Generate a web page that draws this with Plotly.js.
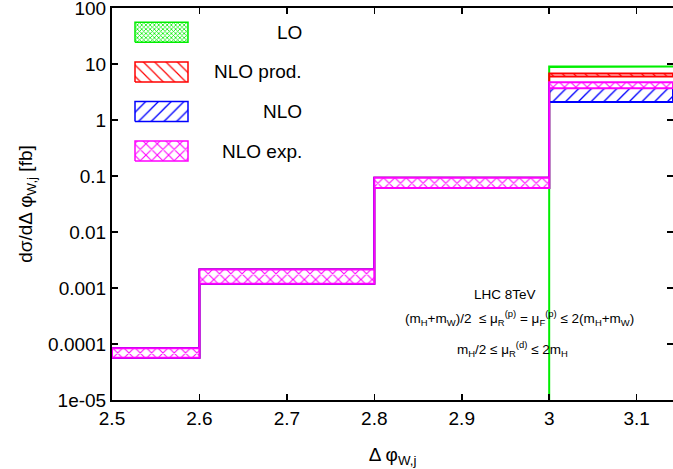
<!DOCTYPE html>
<html>
<head>
<meta charset="utf-8">
<script src="https://cdn.plot.ly/plotly-3.0.1.min.js"></script>
<style>html,body{margin:0;padding:0;background:#fff;}#chart{width:673px;height:469px;}</style>
</head>
<body>
<div id="chart"></div>
<script>
// ---- data ----
const binEdges = [2.5, 2.6, 2.8, 3.0, 3.1416];
const loUpper = [0, 0, 0, 9.0];
const loLower = [0, 0, 0, 8.8];
const nloProdUpper = [8.4e-5, 2.14e-3, 0.093, 6.8];
const nloProdLower = [5.7e-5, 1.19e-3, 0.061, 6.0];
const nloUpper = [8.4e-5, 2.14e-3, 0.093, 4.6];
const nloLower = [5.7e-5, 1.19e-3, 0.061, 2.1];
const nloExpUpper = [8.4e-5, 2.14e-3, 0.093, 4.7];
const nloExpLower = [5.7e-5, 1.19e-3, 0.061, 3.7];
const seriesNames = ["LO", "NLO prod.", "NLO", "NLO exp."];
const xTickVals = [2.5, 2.6, 2.7, 2.8, 2.9, 3.0, 3.1];
const xTickText = ["2.5", "2.6", "2.7", "2.8", "2.9", "3", "3.1"];
const yTickVals = [1e-5, 1e-4, 1e-3, 1e-2, 1e-1, 1, 10, 100];
const yTickText = ["1e-05", "0.0001", "0.001", "0.01", "0.1", "1", "10", "100"];

// ---- styles ----
const FONT = "'Liberation Sans', Arial, Helvetica, sans-serif";
const FLOOR = 1e-9; // zero drawn below the visible log range
const styles = [
  {color: "#00ee00", bg: "rgba(255,255,255,0)", pattern: {shape: "x", size: 3, solidity: 0.45}},
  {color: "#ff0000", bg: "rgba(255,255,255,0)", pattern: {shape: "\\", size: 8, solidity: 0.15}},
  {color: "#0000ff", bg: "rgba(255,255,255,0)", pattern: {shape: "/", size: 9, solidity: 0.15}},
  {color: "#ff00ff", bg: "#ffffff", pattern: {shape: "x", size: 8, solidity: 0.25}}
];
const bands = [[loUpper, loLower], [nloProdUpper, nloProdLower], [nloUpper, nloLower], [nloExpUpper, nloExpLower]];

function stepBand(edges, up, lo) {
  const xs = [], ys = [];
  const f = v => (v > 0 ? v : FLOOR);
  for (let i = 0; i < up.length; i++) { xs.push(edges[i], edges[i + 1]); ys.push(f(up[i]), f(up[i])); }
  for (let i = lo.length - 1; i >= 0; i--) { xs.push(edges[i + 1], edges[i]); ys.push(f(lo[i]), f(lo[i])); }
  xs.push(xs[0]); ys.push(ys[0]);
  return {xs, ys};
}

const traces = [];
bands.forEach((b, k) => {
  const p = stepBand(binEdges, b[0], b[1]);
  const s = styles[k];
  traces.push({
    type: "scatter", mode: "lines", x: p.xs, y: p.ys, name: seriesNames[k],
    fill: "toself", fillcolor: "rgba(0,0,0,0)",
    fillpattern: Object.assign({fgcolor: s.color, bgcolor: s.bg}, s.pattern),
    line: {color: s.color, width: 2, shape: "linear"},
    showlegend: false, hoverinfo: "skip"
  });
});

// ---- legend keys drawn on an overlay axis (0..1 of the plot area) ----
const plotL = 112, plotT = 8, plotW = 561, plotH = 392;
const keyX0 = (135 - plotL) / plotW, keyX1 = (188 - plotL) / plotW;
const keyTop0 = 22.3, keyStep = 39.6, keyH = 20;
const labelX = (304 - plotL) / plotW;
const annotations = [];
seriesNames.forEach((nm, k) => {
  const top = keyTop0 + k * keyStep;
  const y1 = 1 - (top - plotT) / plotH, y0 = 1 - (top + keyH - plotT) / plotH;
  const s = styles[k];
  traces.push({
    type: "scatter", mode: "lines", xaxis: "x2", yaxis: "y2",
    x: [keyX0, keyX1, keyX1, keyX0, keyX0], y: [y0, y0, y1, y1, y0],
    fill: "toself", fillcolor: "rgba(0,0,0,0)",
    fillpattern: Object.assign({fgcolor: s.color, bgcolor: s.bg}, s.pattern),
    line: {color: s.color, width: 1.5}, showlegend: false, hoverinfo: "skip"
  });
  annotations.push({
    xref: "paper", yref: "paper", x: labelX, y: (y0 + y1) / 2, xanchor: "right", yanchor: "middle",
    text: nm, showarrow: false, font: {family: FONT, size: 19, color: "#000"}
  });
});

// ---- text labels ----
const infoFont = {family: FONT, size: 13.5, color: "#000"};
function py(pix) { return 1 - (pix - plotT) / plotH; }
function px(pix) { return (pix - plotL) / plotW; }
annotations.push(
  {xref: "paper", yref: "paper", x: px(505), y: py(294.5), text: "LHC 8TeV", showarrow: false, font: infoFont, xanchor: "center", yanchor: "middle"},
  {xref: "paper", yref: "paper", x: px(519.5), y: py(318), text: "(m<sub>H</sub>+m<sub>W</sub>)/2  ≤ μ<sub>R</sub><sup>(p)</sup> = μ<sub>F</sub><sup>(p)</sup> ≤ 2(m<sub>H</sub>+m<sub>W</sub>)", showarrow: false, font: infoFont, xanchor: "center", yanchor: "middle"},
  {xref: "paper", yref: "paper", x: px(512), y: py(349), text: "m<sub>H</sub>/2 ≤ μ<sub>R</sub><sup>(d)</sup> ≤ 2m<sub>H</sub>", showarrow: false, font: infoFont, xanchor: "center", yanchor: "middle"}
);

const axisCommon = {
  showline: true, linecolor: "#000", linewidth: 2, mirror: "ticks",
  ticks: "inside", ticklen: 6, tickwidth: 1.5, tickcolor: "#000",
  showgrid: false, zeroline: false, ticklabeloverflow: "allow",
  tickfont: {family: FONT, size: 19, color: "#000"}
};

const layout = {
  width: 673, height: 469,
  margin: {l: plotL, r: 673 - plotL - plotW, t: plotT, b: 469 - plotT - plotH, pad: 0},
  paper_bgcolor: "#fff", plot_bgcolor: "#fff",
  font: {family: FONT, color: "#000"},
  showlegend: false,
  xaxis: Object.assign({}, axisCommon, {
    range: [binEdges[0], binEdges[binEdges.length - 1]], tickmode: "array",
    tickvals: xTickVals, ticktext: xTickText,
    title: {text: "Δ φ<sub>W,j</sub>", font: {family: FONT, size: 19}, standoff: 20}
  }),
  yaxis: Object.assign({}, axisCommon, {
    type: "log", range: [-5, 2], tickmode: "array",
    tickvals: yTickVals, ticktext: yTickText,
    title: {text: "dσ/dΔ φ<sub>W,j</sub> [fb]", font: {family: FONT, size: 19}, standoff: 10}
  }),
  xaxis2: {overlaying: "x", anchor: "y2", range: [0, 1], visible: false, fixedrange: true},
  yaxis2: {overlaying: "y", anchor: "x2", range: [0, 1], visible: false, fixedrange: true},
  annotations: annotations
};

Plotly.newPlot("chart", traces, layout, {staticPlot: true, displayModeBar: false});
</script>
</body>
</html>
